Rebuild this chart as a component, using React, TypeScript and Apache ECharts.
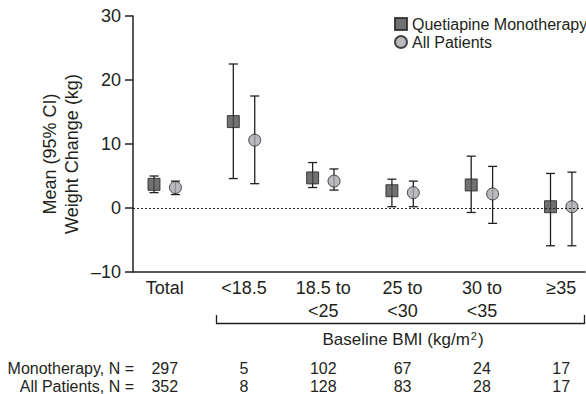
import React, { useEffect, useRef } from "react";
import * as echarts from "echarts";

const categories = ["Total", "<18.5", "18.5 to\n<25", "25 to\n<30", "30 to\n<35", "≥35"];
const monoMean = [3.7, 13.5, 4.7, 2.7, 3.6, 0.2];
const monoLow = [2.4, 4.6, 3.2, 0.2, -0.7, -5.9];
const monoHigh = [5.0, 22.5, 7.1, 4.5, 8.1, 5.4];
const allMean = [3.2, 10.6, 4.2, 2.4, 2.2, 0.2];
const allLow = [2.1, 3.8, 2.8, 0.2, -2.4, -5.9];
const allHigh = [4.2, 17.5, 6.1, 4.2, 6.5, 5.6];
const monoN = [297, 5, 102, 67, 24, 17];
const allN = [352, 8, 128, 83, 28, 17];
const seriesNames = ["Quetiapine Monotherapy", "All Patients"];
const rowLabels = ["Monotherapy, N =", "All Patients, N ="];
const yTitle = "Mean (95% CI)\nWeight Change (kg)";

const FONT = "Liberation Sans, Arial, Helvetica, sans-serif";
const INK = "#231f20";
const OFF = 0.135;
const idx = categories.map((_, i) => i);

const errorRender = (params: any, api: any) => {
  const x = api.value(0);
  const pLo = api.coord([x, api.value(1)]);
  const pHi = api.coord([x, api.value(2)]);
  const w = 4.5;
  const st = { stroke: INK, lineWidth: 1.3 };
  return {
    type: "group",
    children: [
      { type: "line", shape: { x1: pLo[0], y1: pLo[1], x2: pHi[0], y2: pHi[1] }, style: st },
      { type: "line", shape: { x1: pLo[0] - w, y1: pLo[1], x2: pLo[0] + w, y2: pLo[1] }, style: st },
      { type: "line", shape: { x1: pHi[0] - w, y1: pHi[1], x2: pHi[0] + w, y2: pHi[1] }, style: st },
    ],
  };
};

export default function App() {
  const ref = useRef<HTMLDivElement>(null);
  useEffect(() => {
    if (!ref.current) return;
    const chart = echarts.init(ref.current, null, { renderer: "svg" });
    const xBase = {
      type: "value",
      position: "bottom",
      min: -0.4,
      max: 5.3,
      splitLine: { show: false },
      axisTick: { show: false },
    };
    chart.setOption({
      animation: false,
      textStyle: { fontFamily: FONT, color: INK },
      grid: { left: 133, right: 1, top: 16, bottom: 122, containLabel: false, outerBoundsMode: "none" },
      legend: {
        orient: "vertical",
        left: 389,
        top: 11,
        itemWidth: 12,
        itemHeight: 12,
        itemGap: 2,
        textStyle: { fontFamily: FONT, fontSize: 16, color: INK },
        data: [
          { name: seriesNames[0], icon: "rect" },
          { name: seriesNames[1], icon: "circle" },
        ],
      },
      xAxis: [
        {
          ...xBase,
          axisLine: { show: true, onZero: false, lineStyle: { color: INK, width: 1.5 } },
          axisLabel: {
            customValues: idx,
            formatter: (v: number) => categories[Math.round(v)] ?? "",
            fontFamily: FONT,
            fontSize: 18,
            color: INK,
            lineHeight: 23,
            margin: 4,
          },
        },
        {
          ...xBase,
          offset: 88,
          axisLine: { show: false, onZero: false },
          axisLabel: {
            customValues: idx,
            formatter: (v: number) => String(monoN[Math.round(v)] ?? ""),
            fontFamily: FONT,
            fontSize: 16,
            color: INK,
            margin: 0,
          },
        },
        {
          ...xBase,
          offset: 106,
          axisLine: { show: false, onZero: false },
          axisLabel: {
            customValues: idx,
            formatter: (v: number) => String(allN[Math.round(v)] ?? ""),
            fontFamily: FONT,
            fontSize: 16,
            color: INK,
            margin: 0,
          },
        },
      ],
      yAxis: {
        type: "value",
        min: -10,
        max: 30,
        interval: 10,
        splitLine: { show: false },
        axisLine: { show: true, onZero: false, lineStyle: { color: INK, width: 1.5 } },
        axisTick: { show: true, length: 8, lineStyle: { color: INK, width: 1.5 } },
        axisLabel: {
          fontFamily: FONT,
          fontSize: 18,
          color: INK,
          margin: 12,
          formatter: (v: number) => (v < 0 ? "–" + Math.abs(v) : String(v)),
        },
      },
      series: [
        {
          type: "custom",
          name: "mono-ci",
          z: 2,
          renderItem: errorRender,
          data: idx.map((i) => [i - OFF, monoLow[i], monoHigh[i]]),
          markLine: {
            silent: true,
            symbol: "none",
            label: { show: false },
            lineStyle: { color: INK, type: [2, 2], width: 1 },
            data: [{ yAxis: 0 }],
          },
        },
        {
          type: "custom",
          name: "all-ci",
          z: 2,
          renderItem: errorRender,
          data: idx.map((i) => [i + OFF, allLow[i], allHigh[i]]),
        },
        {
          type: "scatter",
          name: seriesNames[0],
          z: 3,
          symbol: "rect",
          symbolSize: 12,
          itemStyle: { color: "#4d4d4f", borderColor: INK, borderWidth: 1 },
          data: idx.map((i) => [i - OFF, monoMean[i]]),
        },
        {
          type: "scatter",
          name: seriesNames[1],
          z: 3,
          symbol: "circle",
          symbolSize: 12,
          itemStyle: { color: "#a7a9ac", borderColor: INK, borderWidth: 1 },
          data: idx.map((i) => [i + OFF, allMean[i]]),
        },
      ],
      graphic: [
        {
          type: "text",
          x: 61,
          y: 154,
          rotation: Math.PI / 2,
          style: {
            text: yTitle,
            font: `18px ${FONT}`,
            lineHeight: 22,
            fill: INK,
            align: "center",
            verticalAlign: "middle",
          },
        },
        {
          type: "polyline",
          shape: { points: [[216.5, 315], [216.5, 323.5], [584.5, 323.5], [584.5, 315]] },
          style: { stroke: INK, lineWidth: 1.3, fill: "none" },
        },
        {
          type: "text",
          x: 403,
          y: 339,
          style: {
            text: "{n|Baseline BMI (kg/m}{s|2}{n|)}",
            align: "center",
            verticalAlign: "middle",
            rich: {
              n: { fontFamily: FONT, fontSize: 17, fill: INK, color: INK },
              s: { fontFamily: FONT, fontSize: 11, fill: INK, color: INK, verticalAlign: "top", padding: [0, 1, 6, 1] },
            },
          },
        },
        {
          type: "text",
          x: 134,
          y: 368,
          style: { text: rowLabels[0], font: `16px ${FONT}`, fill: INK, align: "right", verticalAlign: "middle" },
        },
        {
          type: "text",
          x: 134,
          y: 386,
          style: { text: rowLabels[1], font: `16px ${FONT}`, fill: INK, align: "right", verticalAlign: "middle" },
        },
      ],
    });
    return () => chart.dispose();
  }, []);
  return <div ref={ref} style={{ width: 586, height: 394, position: "absolute", left: 0, top: 0 }} />;
}
